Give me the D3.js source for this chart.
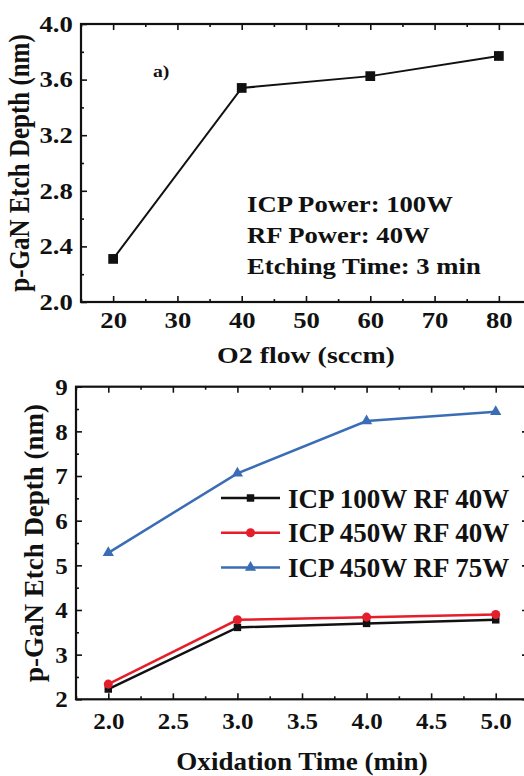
<!DOCTYPE html>
<html>
<head>
<meta charset="utf-8">
<script src="https://cdn.jsdelivr.net/npm/d3@7"></script>
<style>
  body { margin: 0; background: white; }
  text { font-family: "Liberation Serif", "Times New Roman", serif; font-weight: bold; fill: #111; }
</style>
</head>
<body>
<div id="chart"></div>
<script>
// panel a) data
const o2Flow = [20, 40, 60, 80]
const depthVsO2 = [2.31, 3.54, 3.625, 3.77]
const o2Ticks = [20, 30, 40, 50, 60, 70, 80]
const o2Minor = [15, 25, 35, 45, 55, 65, 75, 85]
const depthTicksA = [2.0, 2.4, 2.8, 3.2, 3.6, 4.0]
const depthMinorA = [2.2, 2.6, 3.0, 3.4, 3.8]
const conditionsA = ["ICP Power: 100W", "RF Power: 40W", "Etching Time: 3 min"]

// panel b) data
const oxTime = [2, 3, 4, 5]
const icp100rf40 = [2.23, 3.61, 3.70, 3.78]
const icp450rf40 = [2.34, 3.78, 3.84, 3.90]
const icp450rf75 = [5.28, 7.06, 8.23, 8.44]
const seriesNames = ["ICP 100W RF 40W", "ICP 450W RF 40W", "ICP 450W RF 75W"]
const seriesColors = ["#111111", "#e41e2b", "#3a6db6"]
const timeTicks = [2.0, 2.5, 3.0, 3.5, 4.0, 4.5, 5.0]
const timeMinor = [1.75, 2.25, 2.75, 3.25, 3.75, 4.25, 4.75, 5.25]
const depthTicksB = [2, 3, 4, 5, 6, 7, 8, 9]
const depthMinorB = [2.5, 3.5, 4.5, 5.5, 6.5, 7.5, 8.5]

const W = 524, H = 776
const svg = d3.select("#chart").append("svg")
    .attr("width", W)
    .attr("height", H)
    .attr("style", "background-color: white;")

// draws frame + inward ticks on all four sides
function drawAxes(g, x, y, opt) {
  const sx = opt.stretch
  const box = {l: x.range()[0], r: x.range()[1], t: y.range()[1], b: y.range()[0]}

  const bottom = g.append("g").attr("transform", `translate(0,${box.b})`)
    .call(d3.axisBottom(x).tickValues(opt.xTicks).tickSize(-6).tickPadding(opt.xPad).tickFormat(opt.xFmt))
  bottom.selectAll("text").style("font-size", opt.tickFont + "px").attr("transform", `scale(${sx},1)`)
  g.append("g").attr("transform", `translate(0,${box.b})`)
    .call(d3.axisBottom(x).tickValues(opt.xMinor).tickSize(-3).tickFormat(""))
  g.append("g").attr("transform", `translate(0,${box.t})`)
    .call(d3.axisTop(x).tickValues(opt.xTicks).tickSize(-6).tickFormat(""))
  g.append("g").attr("transform", `translate(0,${box.t})`)
    .call(d3.axisTop(x).tickValues(opt.xMinor).tickSize(-3).tickFormat(""))

  const left = g.append("g").attr("transform", `translate(${box.l},0)`)
    .call(d3.axisLeft(y).tickValues(opt.yTicks).tickSize(-6).tickPadding(opt.yPad).tickFormat(opt.yFmt))
  left.selectAll("text").style("font-size", opt.tickFont + "px").attr("transform", `scale(${sx},1)`)
  g.append("g").attr("transform", `translate(${box.l},0)`)
    .call(d3.axisLeft(y).tickValues(opt.yMinor).tickSize(-3).tickFormat(""))
  g.append("g").attr("transform", `translate(${box.r},0)`)
    .call(d3.axisRight(y).tickValues(opt.yTicks).tickSize(-6).tickFormat(""))
  g.append("g").attr("transform", `translate(${box.r},0)`)
    .call(d3.axisRight(y).tickValues(opt.yMinor).tickSize(-3).tickFormat(""))

  g.selectAll(".domain").remove()
  g.selectAll(".tick line").attr("stroke", "#111").attr("stroke-width", 1.6)

  g.append("rect")
    .attr("x", box.l).attr("y", box.t)
    .attr("width", box.r - box.l).attr("height", box.b - box.t)
    .attr("fill", "none").attr("stroke", "#111").attr("stroke-width", 2.2)

  // axis titles
  g.append("text")
    .attr("transform", `translate(${(box.l + box.r) / 2},${opt.xTitleY}) scale(${sx},1)`)
    .attr("text-anchor", "middle")
    .style("font-size", opt.titleFont + "px")
    .text(opt.xTitle)
  g.append("text")
    .attr("transform", `translate(${opt.yTitleX},${(box.t + box.b) / 2}) scale(${sx},1) rotate(-90)`)
    .attr("text-anchor", "middle")
    .style("font-size", opt.yTitleFont + "px")
    .text(opt.yTitle)
  return box
}

// ---------- panel a) ----------
const xA = d3.scaleLinear().domain([15, 85]).range([81, 531])
const yA = d3.scaleLinear().domain([2.0, 4.0]).range([302, 24])
const gA = svg.append("g")
const sA = 1.16
const boxA = drawAxes(gA, xA, yA, {
  stretch: sA, tickFont: 23, titleFont: 24, yTitleFont: 25,
  xTicks: o2Ticks, xMinor: o2Minor, yTicks: depthTicksA, yMinor: depthMinorA,
  xFmt: d3.format("d"), yFmt: d3.format(".1f"), xPad: 10, yPad: 7,
  xTitle: "O2 flow (sccm)", xTitleY: 363, yTitle: "p-GaN Etch Depth (nm)", yTitleX: 29
})

gA.append("path")
  .datum(o2Flow.map((f, i) => [f, depthVsO2[i]]))
  .attr("fill", "none").attr("stroke", "#111").attr("stroke-width", 2)
  .attr("d", d3.line().x(d => xA(d[0])).y(d => yA(d[1])))
gA.selectAll(".ptA")
  .data(o2Flow.map((f, i) => [f, depthVsO2[i]]))
  .join("path")
  .attr("transform", d => `translate(${xA(d[0])},${yA(d[1])})`)
  .attr("d", d3.symbol(d3.symbolSquare, 95))
  .attr("fill", "#111")

gA.append("text")
  .attr("transform", `translate(153,77) scale(${sA},1)`)
  .style("font-size", "17px")
  .text("a)")

conditionsA.forEach((t, i) => {
  gA.append("text")
    .attr("transform", `translate(247,${212 + i * 31}) scale(${sA},1)`)
    .style("font-size", "23px")
    .text(t)
})

// ---------- panel b) ----------
const xB = d3.scaleLinear().domain([1.75, 5.25]).range([76, 528])
const yB = d3.scaleLinear().domain([2, 9]).range([699.3, 386.7])
const gB = svg.append("g")
const boxB = drawAxes(gB, xB, yB, {
  stretch: 1.04, tickFont: 24, titleFont: 26, yTitleFont: 27,
  xTicks: timeTicks, xMinor: timeMinor, yTicks: depthTicksB, yMinor: depthMinorB,
  xFmt: d3.format(".1f"), yFmt: d3.format("d"), xPad: 13, yPad: 8,
  xTitle: "Oxidation Time (min)", xTitleY: 770, yTitle: "p-GaN Etch Depth (nm)", yTitleX: 43
})

const seriesData = [icp100rf40, icp450rf40, icp450rf75]
const symbols = [
  d3.symbol(d3.symbolSquare, 56),
  d3.symbol(d3.symbolCircle, 64),
  d3.symbol(d3.symbolTriangle, 55)
]

seriesData.forEach((vals, s) => {
  const pts = oxTime.map((t, i) => [t, vals[i]])
  gB.append("path")
    .datum(pts)
    .attr("fill", "none").attr("stroke", seriesColors[s]).attr("stroke-width", 2.5)
    .attr("d", d3.line().x(d => xB(d[0])).y(d => yB(d[1])))
  gB.selectAll(".pt" + s)
    .data(pts)
    .join("path")
    .attr("transform", d => `translate(${xB(d[0])},${yB(d[1])})`)
    .attr("d", symbols[s])
    .attr("fill", seriesColors[s])
})

// legend
const legend = gB.append("g").attr("transform", "translate(221,498)")
seriesNames.forEach((name, i) => {
  const row = legend.append("g").attr("transform", `translate(0,${i * 34.7})`)
  row.append("line")
    .attr("x1", 0).attr("x2", 59).attr("y1", 0).attr("y2", 0)
    .attr("stroke", seriesColors[i]).attr("stroke-width", 2.5)
  row.append("path")
    .attr("transform", "translate(29.5,0)")
    .attr("d", symbols[i])
    .attr("fill", seriesColors[i])
  row.append("text")
    .attr("x", 67).attr("y", 9.5)
    .style("font-size", "27px")
    .text(name)
})
</script>
</body>
</html>
